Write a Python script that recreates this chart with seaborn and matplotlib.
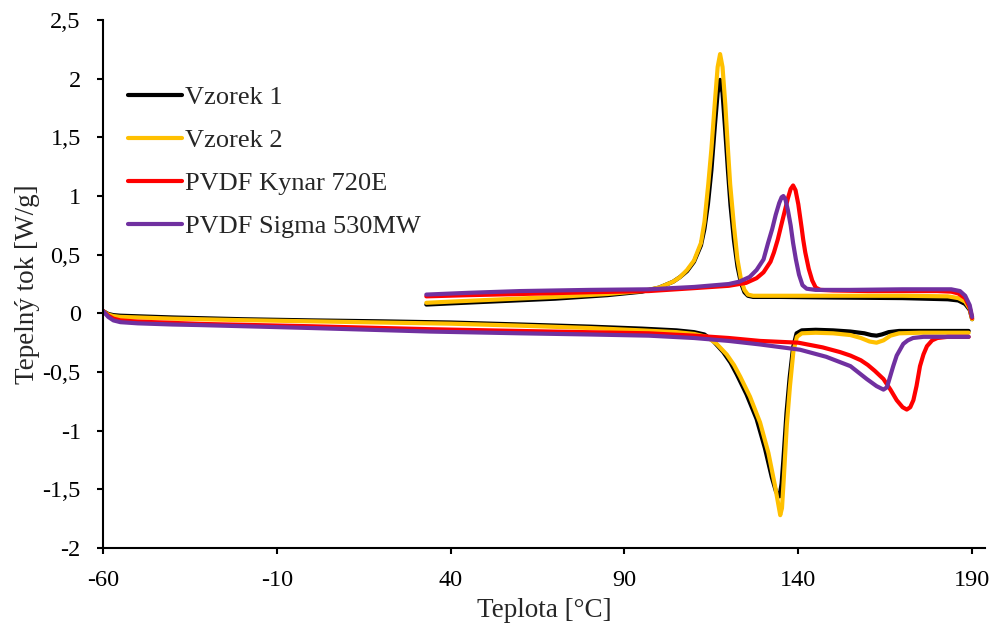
import matplotlib
matplotlib.use("Agg")
import matplotlib.pyplot as plt
from matplotlib.ticker import FuncFormatter, MultipleLocator
import pandas as pd
import seaborn as sns

samples = ["Vzorek 1", "Vzorek 2", "PVDF Kynar 720E", "PVDF Sigma 530MW"]
colors = ["#000000", "#FFC000", "#FF0000", "#7030A0"]

# heating runs (lower curves), temperature [°C] / heat flow [W/g]
v1_heat_t = [-60, -58.5, -57, -55, -50, -40, -20, 0, 20, 40, 60, 80, 95, 105, 110, 113, 115.5, 118.4,
             120.5, 122.3, 125.1, 128, 130.4, 132.4, 133.6, 134.6, 135.2, 135.7, 136.6, 137.5, 138.5,
             139.5, 141, 145, 150, 155, 159, 161, 162.5, 164, 166, 169, 175, 182, 189]
v1_heat_q = [0.02, -0.005, -0.015, -0.02, -0.025, -0.035, -0.05, -0.06, -0.068, -0.078, -0.095, -0.113,
             -0.13, -0.145, -0.16, -0.18, -0.235, -0.33, -0.42, -0.52, -0.69, -0.9, -1.15, -1.4, -1.52,
             -1.56, -1.45, -1.25, -0.85, -0.55, -0.29, -0.17, -0.145, -0.14, -0.145, -0.155, -0.17,
             -0.185, -0.19, -0.18, -0.16, -0.15, -0.15, -0.15, -0.15]

v2_heat_t = [-60, -58.5, -57, -55, -50, -40, -20, 0, 20, 40, 60, 80, 95, 105, 110, 113.7, 116.5, 119.4,
             121.5, 123.3, 126.1, 129, 131.4, 133.3, 134.2, 134.8, 135.3, 135.8, 136.7, 137.6, 138.6,
             139.6, 141, 145, 150, 155, 158, 160.5, 162.5, 164.5, 166.5, 169, 175, 182, 189]
v2_heat_q = [0.02, -0.01, -0.023, -0.03, -0.035, -0.045, -0.058, -0.068, -0.078, -0.088, -0.105, -0.125,
             -0.145, -0.16, -0.175, -0.2, -0.26, -0.35, -0.44, -0.54, -0.71, -0.93, -1.19, -1.47, -1.62,
             -1.72, -1.66, -1.42, -0.95, -0.62, -0.32, -0.2, -0.17, -0.165, -0.17, -0.185, -0.21, -0.24,
             -0.25, -0.23, -0.19, -0.17, -0.165, -0.165, -0.165]

kynar_heat_t = [-60, -58.5, -57, -55, -50, -32, 0, 34, 60, 97, 110, 120, 129, 140, 147, 152, 155, 158,
                160, 162, 164.5, 166.5, 168.3, 170, 171.2, 172.2, 173.1, 174, 175, 176, 177, 178.5, 180,
                183, 189]
kynar_heat_q = [0.02, -0.02, -0.045, -0.06, -0.07, -0.09, -0.11, -0.135, -0.15, -0.17, -0.19, -0.21,
                -0.235, -0.25, -0.29, -0.33, -0.36, -0.4, -0.44, -0.49, -0.56, -0.65, -0.74, -0.8, -0.82,
                -0.8, -0.74, -0.62, -0.45, -0.35, -0.28, -0.23, -0.21, -0.2, -0.2]

sigma_heat_t = [-60, -58.5, -57, -55, -50, -40, -32, 0, 34, 60, 80, 97, 110, 120, 129, 140.5, 148, 155,
                159.7, 162.5, 164.5, 165.5, 166.4, 167.3, 168.3, 170.2, 171.5, 173, 176, 182, 189]
sigma_heat_q = [0.02, -0.03, -0.06, -0.075, -0.085, -0.095, -0.1, -0.125, -0.155, -0.17, -0.18, -0.19,
                -0.21, -0.235, -0.265, -0.31, -0.37, -0.45, -0.56, -0.62, -0.65, -0.63, -0.54, -0.45,
                -0.36, -0.26, -0.23, -0.21, -0.2, -0.2, -0.2]

# cooling runs (upper curves)
v1_cool_t = [33, 40, 55, 70, 85, 95, 100, 104, 106, 108, 110, 112, 113, 114, 115, 116, 116.8, 117.5,
             118.2, 119, 119.8, 120.5, 121.5, 122.5, 123.5, 124.5, 125.5, 127, 135, 150, 170, 183, 186,
             188, 189.3, 190]
v1_cool_q = [0.075, 0.085, 0.105, 0.125, 0.155, 0.185, 0.22, 0.27, 0.31, 0.36, 0.44, 0.58, 0.72, 0.93,
             1.22, 1.6, 1.88, 1.99, 1.88, 1.55, 1.2, 0.92, 0.62, 0.4, 0.26, 0.18, 0.15, 0.14, 0.14,
             0.135, 0.13, 0.12, 0.11, 0.08, 0.03, -0.05]

v2_cool_t = [33, 40, 55, 70, 85, 95, 100, 104, 106, 108, 110, 112, 113, 114.1, 115, 116, 116.8, 117.5,
             118.2, 119, 119.8, 120.4, 121.5, 122.5, 123.5, 124.5, 125.5, 127, 135, 150, 170, 183, 186,
             188, 189.3, 190]
v2_cool_q = [0.09, 0.1, 0.12, 0.14, 0.165, 0.19, 0.22, 0.27, 0.31, 0.37, 0.45, 0.6, 0.78, 1.1, 1.4, 1.8,
             2.1, 2.21, 2.1, 1.78, 1.38, 1.1, 0.74, 0.46, 0.29, 0.2, 0.16, 0.15, 0.15, 0.15, 0.15, 0.145,
             0.13, 0.1, 0.04, -0.05]

kynar_cool_t = [33, 45, 60, 80, 97, 110, 120, 125, 128, 130, 132, 133, 134.1, 135, 136, 137, 137.8,
                138.5, 139.2, 140, 141, 141.4, 142, 143, 144, 145, 146.3, 150, 160, 170, 180, 184, 186,
                188, 189.3, 190]
kynar_cool_q = [0.145, 0.155, 0.165, 0.18, 0.19, 0.215, 0.235, 0.26, 0.3, 0.35, 0.44, 0.52, 0.63, 0.74,
                0.86, 0.98, 1.06, 1.09, 1.05, 0.93, 0.72, 0.63, 0.52, 0.38, 0.28, 0.22, 0.2, 0.195, 0.19,
                0.19, 0.19, 0.185, 0.17, 0.13, 0.05, -0.04]

sigma_cool_t = [33, 45, 60, 80, 97, 110, 120, 123, 126, 128, 130, 131.3, 132.5, 133.5, 134.5, 135.2,
                135.7, 136.3, 137, 137.8, 138.5, 139.3, 140.2, 141.2, 142.4, 145, 155, 170, 184, 186.5,
                188, 189.3, 190]
sigma_cool_q = [0.16, 0.175, 0.19, 0.2, 0.205, 0.225, 0.25, 0.27, 0.31, 0.37, 0.46, 0.6, 0.72, 0.84,
                0.94, 0.99, 1.0, 0.97, 0.88, 0.75, 0.6, 0.46, 0.33, 0.24, 0.21, 0.2, 0.2, 0.205, 0.205,
                0.19, 0.15, 0.07, -0.03]

x_ticks = [-60, -10, 40, 90, 140, 190]

runs = [
    ("Vzorek 1", "heat", v1_heat_t, v1_heat_q),
    ("Vzorek 1", "cool", v1_cool_t, v1_cool_q),
    ("Vzorek 2", "heat", v2_heat_t, v2_heat_q),
    ("Vzorek 2", "cool", v2_cool_t, v2_cool_q),
    ("PVDF Kynar 720E", "heat", kynar_heat_t, kynar_heat_q),
    ("PVDF Kynar 720E", "cool", kynar_cool_t, kynar_cool_q),
    ("PVDF Sigma 530MW", "heat", sigma_heat_t, sigma_heat_q),
    ("PVDF Sigma 530MW", "cool", sigma_cool_t, sigma_cool_q),
]
frames = [pd.DataFrame({"sample": s, "run": r, "teplota": t, "tok": q}) for s, r, t, q in runs]
df = pd.concat(frames, ignore_index=True)

sns.set_style("ticks")
plt.rcParams["font.family"] = ["Liberation Serif", "DejaVu Serif"]
plt.rcParams["axes.unicode_minus"] = False

fig = plt.figure(figsize=(10, 6.27), dpi=100)
ax = fig.add_axes([0.103, 0.126, 0.882, 0.842])

sns.lineplot(data=df, x="teplota", y="tok", hue="sample", hue_order=samples, palette=colors,
             units="run", estimator=None, sort=False, linewidth=3.0, ax=ax)

ax.set_xlim(-60, 193.7)
ax.set_ylim(-2, 2.5)
ax.set_xticks(x_ticks)
ax.yaxis.set_major_locator(MultipleLocator(0.5))
comma = FuncFormatter(lambda v, pos: f"{v:g}".replace(".", ","))
ax.yaxis.set_major_formatter(comma)
ax.xaxis.set_major_formatter(comma)
ax.tick_params(axis="both", labelsize=17.5, length=4, width=1.5, colors="black")
ax.tick_params(axis="y", pad=12)
ax.tick_params(axis="x", pad=12)
for side in ["left", "bottom"]:
    ax.spines[side].set_linewidth(1.5)
    ax.spines[side].set_color("black")
sns.despine(ax=ax)

ax.set_xlabel("Teplota [°C]", fontsize=19.5, labelpad=5)
ax.set_ylabel("Tepelný tok [W/g]", fontsize=19.5, labelpad=2)

handles, labels = ax.get_legend_handles_labels()
for h in handles:
    h.set_linewidth(3.0)
ax.legend(handles, labels, loc="upper left", bbox_to_anchor=(0.128, 1 - 86 / 627),
          bbox_transform=fig.transFigure, frameon=False, fontsize=19, handlelength=2.05,
          handletextpad=0.12, labelspacing=0.74, borderpad=0, borderaxespad=0)

fig.savefig("out.png", dpi=100)
